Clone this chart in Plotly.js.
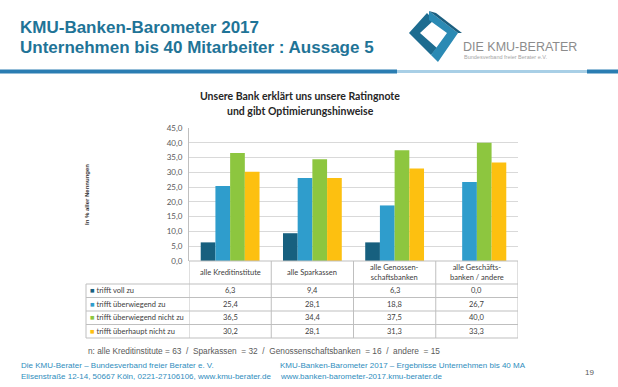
<!DOCTYPE html>
<html>
<head>
<meta charset="utf-8">
<script src="https://cdn.plot.ly/plotly-3.0.1.min.js"></script>
<style>
  html, body { margin: 0; padding: 0; background: #ffffff; }
  #chart { width: 618px; height: 387px; }
</style>
</head>
<body>
<div id="chart"></div>
<script>
// ---------- data ----------
const categories = ["alle Kreditinstitute", "alle Sparkassen", "alle Genossenschaftsbanken", "alle Geschäftsbanken / andere"];
const categoryLabels = ["alle Kreditinstitute", "alle Sparkassen", "alle Genossen-<br>schaftsbanken", "alle Geschäfts-<br>banken / andere"];
const seriesNames = ["trifft voll zu", "trifft überwiegend zu", "trifft überwiegend nicht zu", "trifft überhaupt nicht zu"];
const volZu = [6.3, 9.4, 6.3, 0.0];
const ueberwiegendZu = [25.4, 28.1, 18.8, 26.7];
const ueberwiegendNichtZu = [36.5, 34.4, 37.5, 40.0];
const ueberhauptNichtZu = [30.2, 28.1, 31.3, 33.3];
const seriesValues = [volZu, ueberwiegendZu, ueberwiegendNichtZu, ueberhauptNichtZu];
const seriesColors = ["#17607f", "#2f9dcc", "#8dc63f", "#fdc010"];
const yTicks = [0, 5, 10, 15, 20, 25, 30, 35, 40, 45];

// ---------- helpers (pixel -> paper) ----------
const W = 618, H = 387;
const px = x => x / W;
const py = y => 1 - y / H;

const chartFont = "Lato, 'Open Sans', sans-serif";
const arial = "'Liberation Sans', Arial, sans-serif";

// ---------- traces ----------
const traces = seriesNames.map((name, i) => ({
  type: "bar",
  name: name,
  x: categories,
  y: seriesValues[i],
  marker: { color: seriesColors[i], line: { width: 0 } },
  showlegend: false,
  hoverinfo: "skip"
}));

// ---------- table geometry ----------
const tableLeft = 86, plotLeft = 189, plotRight = 518;
const tableTop = 261, headerBottom = 284, rowH = 13.5;
const rowY = i => headerBottom + rowH * i;

const shapes = [];
const gridCol = "#bfbfbf";
// horizontal table lines
shapes.push({ type: "line", xref: "paper", yref: "paper", x0: px(plotLeft), x1: px(plotRight), y0: py(tableTop), y1: py(tableTop), line: { color: gridCol, width: 1 } });
for (let r = 0; r <= seriesNames.length; r++) {
  shapes.push({ type: "line", xref: "paper", yref: "paper", x0: px(tableLeft), x1: px(plotRight), y0: py(rowY(r)), y1: py(rowY(r)), line: { color: gridCol, width: 1 } });
}
// vertical table lines
shapes.push({ type: "line", xref: "paper", yref: "paper", x0: px(tableLeft), x1: px(tableLeft), y0: py(headerBottom), y1: py(rowY(4)), line: { color: gridCol, width: 1 } });
for (let c = 0; c <= categories.length; c++) {
  shapes.push({ type: "line", xref: "x", yref: "paper", x0: c - 0.5, x1: c - 0.5, y0: py(tableTop), y1: py(rowY(4)), line: { color: gridCol, width: 1 } });
}

// header rule under title block
shapes.push({ type: "line", xref: "paper", yref: "paper", x0: 0, x1: px(397), y0: py(71.5), y1: py(71.5), line: { color: "#2a7db2", width: 4 } });
shapes.push({ type: "line", xref: "paper", yref: "paper", x0: px(397), x1: px(587), y0: py(71.5), y1: py(71.5), line: { color: "#a8cfe6", width: 3 } });
shapes.push({ type: "line", xref: "paper", yref: "paper", x0: px(587), x1: 1, y0: py(71.5), y1: py(71.5), line: { color: "#2a7db2", width: 4 } });

// logo chevrons
function pathFrom(pts) {
  return "M " + pts.map(p => px(p[0]).toFixed(4) + "," + py(p[1]).toFixed(4)).join(" L ") + " Z";
}
shapes.push({ type: "path", xref: "paper", yref: "paper", path: pathFrom([[427, 13], [434, 20], [420, 33], [437, 48], [431, 55], [409, 33]]), fillcolor: "#1d6c90", line: { width: 0 } });
shapes.push({ type: "path", xref: "paper", yref: "paper", path: pathFrom([[429, 11], [458, 33], [438, 62], [431, 55], [447, 33], [429, 20]]), fillcolor: "#2b8ab4", line: { width: 0 } });
shapes.push({ type: "path", xref: "paper", yref: "paper", path: pathFrom([[429, 11], [436, 13], [462, 33], [458, 33]]), fillcolor: "#1b5f80", line: { width: 0 } });

// ---------- annotations ----------
const ann = [];
const txt = (x, y, text, opts) => Object.assign({
  xref: "paper", yref: "paper", x: px(x), y: py(y), text: text, showarrow: false,
  xanchor: "left", yanchor: "middle", font: { family: arial, size: 8, color: "#404040" }
}, opts || {});

// header
ann.push(txt(18, 27, "KMU-Banken-Barometer 2017", { font: { family: arial, size: 17, color: "#1f7497", weight: "bold" } }));
ann.push(txt(18, 47, "Unternehmen bis 40 Mitarbeiter : Aussage 5", { font: { family: arial, size: 17, color: "#1f7497", weight: "bold" } }));
ann.push(txt(461, 47, "DIE KMU-BERATER", { font: { family: arial, size: 12.5, color: "#8c8c8c" } }));
ann.push(txt(462, 57.5, "Bundesverband freier Berater e.V.", { font: { family: arial, size: 5.5, color: "#a5a5a5" } }));

// chart title
ann.push(txt(300, 96, "<b>Unsere Bank erklärt uns unsere Ratingnote</b>", { xanchor: "center", font: { family: chartFont, size: 10.5, color: "#262626" } }));
ann.push(txt(300, 111, "<b>und gibt Optimierungshinweise</b>", { xanchor: "center", font: { family: chartFont, size: 10.5, color: "#262626" } }));

// y axis title
ann.push(txt(87, 195, "<b>In % aller Nennungen</b>", { xanchor: "center", textangle: -90, font: { family: arial, size: 6, color: "#333333" } }));

// table header labels
categories.forEach((c, i) => {
  ann.push({ xref: "x", yref: "paper", x: c, y: py((tableTop + headerBottom) / 2), text: categoryLabels[i], showarrow: false,
    xanchor: "center", yanchor: "middle", font: { family: chartFont, size: 7.5, color: "#404040" } });
});
// table rows
seriesNames.forEach((name, r) => {
  const yc = py(rowY(r) + rowH / 2);
  ann.push({ xref: "paper", yref: "paper", x: px(88), y: yc, text: '<span style="color:' + seriesColors[r] + '">■</span> ' + name,
    showarrow: false, xanchor: "left", yanchor: "middle", font: { family: chartFont, size: 7.5, color: "#404040" } });
  categories.forEach((c, i) => {
    ann.push({ xref: "x", yref: "paper", x: c, y: yc, text: seriesValues[r][i].toFixed(1).replace(".", ","),
      showarrow: false, xanchor: "center", yanchor: "middle", font: { family: chartFont, size: 7.5, color: "#404040" } });
  });
});

// sample note
ann.push(txt(86, 351, "n: alle Kreditinstitute = 63\u00a0 /\u00a0 Sparkassen\u00a0 = 32\u00a0 /\u00a0 Genossenschaftsbanken\u00a0 = 16\u00a0 /\u00a0 andere\u00a0 = 15", { font: { family: arial, size: 8.3, color: "#595959" } }));

// footer
const footCol = "#2f8dbd";
ann.push(txt(19, 365, "Die KMU-Berater – Bundesverband freier Berater e. V.", { font: { family: arial, size: 8, color: footCol } }));
ann.push(txt(19, 376, "Elisenstraße 12-14, 50667 Köln, 0221-27106106, www.kmu-berater.de", { font: { family: arial, size: 8, color: footCol } }));
ann.push(txt(278, 365, "KMU-Banken-Barometer 2017 – Ergebnisse Unternehmen bis 40 MA", { font: { family: arial, size: 8, color: footCol } }));
ann.push(txt(278, 376, "www.banken-barometer-2017.kmu-berater.de", { font: { family: arial, size: 8, color: footCol } }));
ann.push(txt(589, 372, "19", { xanchor: "center", font: { family: arial, size: 8, color: "#595959" } }));

// ---------- layout ----------
const layout = {
  width: W, height: H,
  margin: { l: 0, r: 0, t: 0, b: 0, pad: 0 },
  paper_bgcolor: "#ffffff",
  plot_bgcolor: "#ffffff",
  separators: ",.",
  barmode: "group",
  bargap: 0.285,
  bargroupgap: 0,
  showlegend: false,
  xaxis: {
    domain: [px(plotLeft), px(plotRight)],
    type: "category",
    categoryarray: categories,
    range: [-0.5, 3.5],
    showticklabels: false,
    showgrid: false, zeroline: false, showline: false, ticks: ""
  },
  yaxis: {
    domain: [py(tableTop), py(128)],
    range: [0, 45],
    tickvals: yTicks,
    tickformat: ".1f",
    showgrid: true, gridcolor: "#d9d9d9", gridwidth: 1,
    zeroline: false,
    showline: true, linecolor: "#bfbfbf", linewidth: 1,
    ticks: "",
    ticklabelstandoff: 4,
    tickfont: { family: chartFont, size: 8, color: "#595959" }
  },
  shapes: shapes,
  annotations: ann
};

Plotly.newPlot("chart", traces, layout, { staticPlot: true, displayModeBar: false });
</script>
</body>
</html>
